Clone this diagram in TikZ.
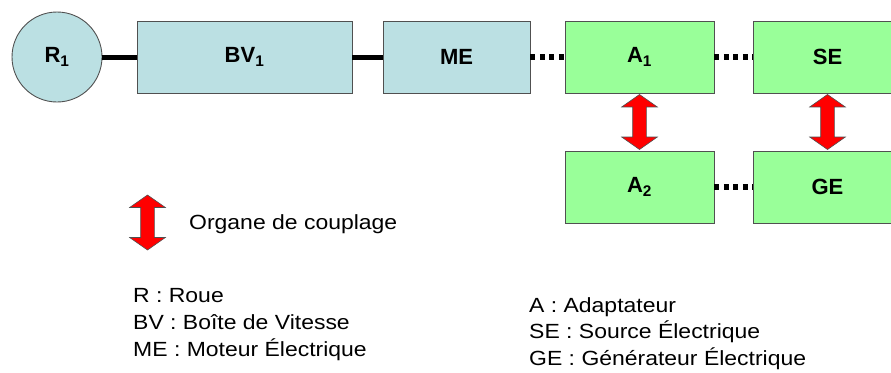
\documentclass[tikz,border=0pt]{standalone}
\usepackage{fontspec}
\setmainfont{Liberation Sans}
\newfontfamily\legendfont[FakeStretch=1.12]{Liberation Sans}
\usetikzlibrary{shapes.arrows, calc}

\definecolor{boxblue}{RGB}{187,224,227}
\definecolor{boxgreen}{RGB}{153,255,153}
\definecolor{boxline}{RGB}{80,80,80}

\tikzset{
    organ/.style={draw=boxline, line width=0.9pt, inner sep=0pt,
        minimum height=72pt, font=\fontsize{22}{24}\selectfont\bfseries},
    meca/.style={organ, fill=boxblue},
    elec/.style={organ, fill=boxgreen, minimum width=149pt},
    shaft/.style={line width=5pt},
    elink/.style={line width=6pt, dash pattern=on 5pt off 4.5pt},
    coupler/.style={shape=double arrow, rotate=90, fill=red, draw=boxline,
        line width=0.6pt, inner sep=6.5pt, minimum height=55pt, minimum width=35pt,
        double arrow head extend=11pt, double arrow tip angle=110},
    legend/.style={anchor=base west, inner sep=0pt,
        font=\legendfont\fontsize{20.5}{24}\selectfont}
}

\begin{document}
\begin{tikzpicture}[x=1pt, y=-1pt]

    \useasboundingbox (0,0) rectangle (891,372);

    % ==========================================
    % MECHANICAL CHAIN
    % ==========================================

    \node[organ, fill=boxblue, circle, minimum size=90pt] (R1) at (57, 57) {R\textsubscript{1}};
    \node[meca, minimum width=215pt] (BV1) at (244.5, 57) {BV\textsubscript{1}};
    \node[meca, minimum width=147pt] (ME) at (456.5, 57) {ME};

    % ==========================================
    % ELECTRICAL CHAIN
    % ==========================================

    \node[elec] (A1) at (639.5, 57) {A\textsubscript{1}};
    \node[elec] (SE) at (827.5, 57) {SE};
    \node[elec] (A2) at (639.5, 187) {A\textsubscript{2}};
    \node[elec] (GE) at (827.5, 187) {GE};

    % Links
    \draw[shaft] (R1) -- (BV1);
    \draw[shaft] (BV1) -- (ME);
    \draw[elink] (ME) -- (A1);
    \draw[elink] (A1) -- (SE);
    \draw[elink] (A2) -- (GE);

    % Coupling organs
    \node[coupler] (CA) at ($(A1.south)!0.5!(A2.north)$) {};
    \node[coupler] (CS) at ($(SE.south)!0.5!(GE.north)$) {};

    % ==========================================
    % LEGEND
    % ==========================================

    \node[coupler] (legarrow) at (147.5, 222.5) {};
    \node[legend] (legorg) at (189, 229) {Organe de couplage};

    \node[legend] (legR) at (133, 302) {R : Roue};
    \node[legend] (legBV) at (133, 329) {BV : Boîte de Vitesse};
    \node[legend] (legME) at (133, 356) {ME : Moteur Électrique};

    \node[legend] (legA) at (529, 312) {A : Adaptateur};
    \node[legend] (legSE) at (529, 338.5) {SE : Source Électrique};
    \node[legend] (legGE) at (529, 365) {GE : Générateur Électrique};

\end{tikzpicture}
\end{document}
